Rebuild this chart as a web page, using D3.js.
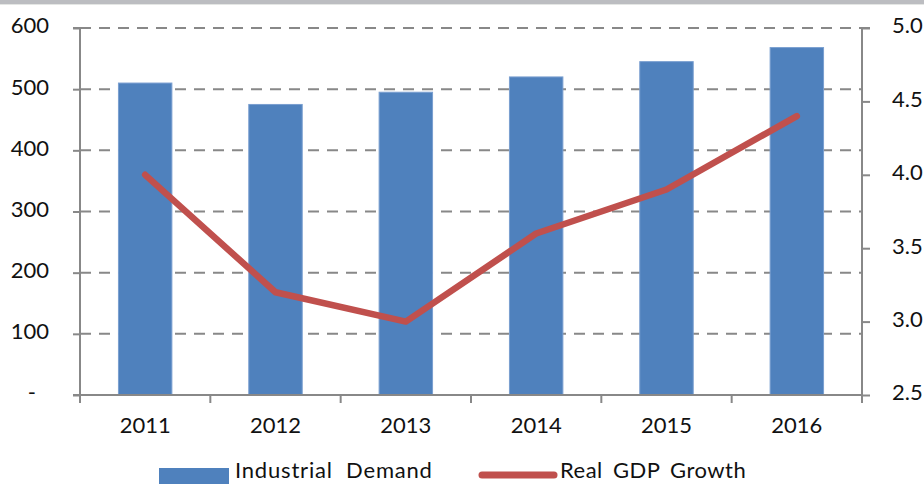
<!DOCTYPE html>
<html>
<head>
<meta charset="utf-8">
<script src="https://cdn.jsdelivr.net/npm/d3@7"></script>
<style>
  html, body { margin: 0; padding: 0; background: #fff; }
  svg { display: block; font-family: Lato, "Open Sans", sans-serif; }
</style>
</head>
<body>
<div id="chart"></div>
<script>
// Data
const years = ['2011', '2012', '2013', '2014', '2015', '2016'];
const industrialDemand = [510, 475, 495, 520, 545, 568];
const realGdpGrowth = [4.0, 3.2, 3.0, 3.6, 3.9, 4.4];
const leftTicks = [0, 100, 200, 300, 400, 500, 600];
const rightTicks = [2.5, 3.0, 3.5, 4.0, 4.5, 5.0];

const W = 924, H = 484;
const M = { top: 28, right: 62, bottom: 89, left: 80 };
const AXIS = '#888888';

const svg = d3.select('#chart').append('svg')
  .attr('width', W).attr('height', H);

// top grey band
svg.append('rect').attr('x', 0).attr('y', 0).attr('width', W).attr('height', 4).attr('fill', '#bcbdc1');
svg.append('rect').attr('x', 0).attr('y', 4).attr('width', W).attr('height', 1).attr('fill', '#e4e6e4');

const x = d3.scaleBand().domain(years).range([M.left, W - M.right]).paddingInner(0.59).paddingOuter(0.295);
const xOuter = d3.scaleBand().domain(years).range([M.left, W - M.right]);
const yL = d3.scaleLinear().domain([0, 600]).range([H - M.bottom, M.top]);
const yR = d3.scaleLinear().domain([2.5, 5.0]).range([H - M.bottom, M.top]);

// dashed gridlines
svg.append('g').selectAll('line')
  .data(leftTicks.filter(d => d > 0))
  .join('line')
    .attr('x1', M.left).attr('x2', W - M.right)
    .attr('y1', d => yL(d)).attr('y2', d => yL(d))
    .attr('stroke', AXIS).attr('stroke-width', 2)
    .attr('stroke-dasharray', '11,8');

// bars
svg.append('g').selectAll('rect')
  .data(years)
  .join('rect')
    .attr('x', d => x(d))
    .attr('width', x.bandwidth())
    .attr('y', (d, i) => yL(industrialDemand[i]))
    .attr('height', (d, i) => yL(0) - yL(industrialDemand[i]))
    .attr('fill', '#4f81bd')
    .attr('stroke', '#7a9fd0').attr('stroke-width', 1);

// left axis
const leftAxis = svg.append('g')
  .attr('transform', `translate(${M.left},0)`)
  .call(d3.axisLeft(yL).tickValues(leftTicks).tickSize(7).tickPadding(24)
    .tickFormat(d => d === 0 ? '-' : d3.format('d')(d)));
leftAxis.select('.domain').attr('stroke', AXIS).attr('stroke-width', 2)
  .attr('d', `M-7,${yL(600)}H0V${yL(0) + 8}`);
leftAxis.selectAll('.tick line').attr('stroke', AXIS).attr('stroke-width', 2);
leftAxis.selectAll('.tick text').attr('font-size', 22).attr('fill', '#111').attr('font-family', 'Lato')
  .attr('dy', '0.22em')
  .attr('dx', d => d === 0 ? -13 : 0);

// right axis
const rightAxis = svg.append('g')
  .attr('transform', `translate(${W - M.right},0)`)
  .call(d3.axisRight(yR).tickValues(rightTicks).tickSize(8).tickPadding(22)
    .tickFormat(d3.format('.1f')));
rightAxis.select('.domain').attr('stroke', AXIS).attr('stroke-width', 2)
  .attr('d', `M8,${yR(5)}H0V${yR(2.5) + 8}`);
rightAxis.selectAll('.tick line').attr('stroke', AXIS).attr('stroke-width', 2);
rightAxis.selectAll('.tick text').attr('font-size', 22).attr('fill', '#111').attr('font-family', 'Lato')
  .attr('dy', '0.22em');

// bottom axis
const base = yL(0);
const bottom = svg.append('g');
bottom.append('line')
  .attr('x1', M.left - 7).attr('x2', W - M.right)
  .attr('y1', base).attr('y2', base)
  .attr('stroke', AXIS).attr('stroke-width', 2);
bottom.selectAll('line.tk')
  .data(years.concat(['end']))
  .join('line').attr('class', 'tk')
    .attr('x1', d => d === 'end' ? W - M.right : xOuter(d))
    .attr('x2', d => d === 'end' ? W - M.right : xOuter(d))
    .attr('y1', base).attr('y2', base + 8)
    .attr('stroke', AXIS).attr('stroke-width', 2);
bottom.selectAll('text')
  .data(years)
  .join('text')
    .attr('x', d => x(d) + x.bandwidth() / 2)
    .attr('y', 433)
    .attr('text-anchor', 'middle')
    .attr('font-size', 22).attr('fill', '#111')
    .text(d => d);

// GDP line
const line = d3.line()
  .x((d, i) => x(years[i]) + x.bandwidth() / 2)
  .y(d => yR(d));
svg.append('path')
  .datum(realGdpGrowth)
  .attr('d', line)
  .attr('fill', 'none')
  .attr('stroke', '#c0504d').attr('stroke-width', 6.5)
  .attr('stroke-linejoin', 'round').attr('stroke-linecap', 'round');

// legend
const lg = svg.append('g');
lg.append('rect').attr('x', 159).attr('y', 468).attr('width', 70).attr('height', 16).attr('fill', '#4f81bd');
lg.append('text').attr('x', 235).attr('y', 478).attr('font-size', 22).attr('fill', '#111')
  .attr('letter-spacing', 0.8).attr('word-spacing', 7).text('Industrial Demand');
lg.append('line').attr('x1', 482).attr('x2', 554).attr('y1', 475).attr('y2', 475)
  .attr('stroke', '#c0504d').attr('stroke-width', 7).attr('stroke-linecap', 'round');
lg.append('text').attr('x', 560).attr('y', 478).attr('font-size', 22).attr('fill', '#111')
  .attr('letter-spacing', 0.5).attr('word-spacing', 4).text('Real GDP Growth');
</script>
</body>
</html>
